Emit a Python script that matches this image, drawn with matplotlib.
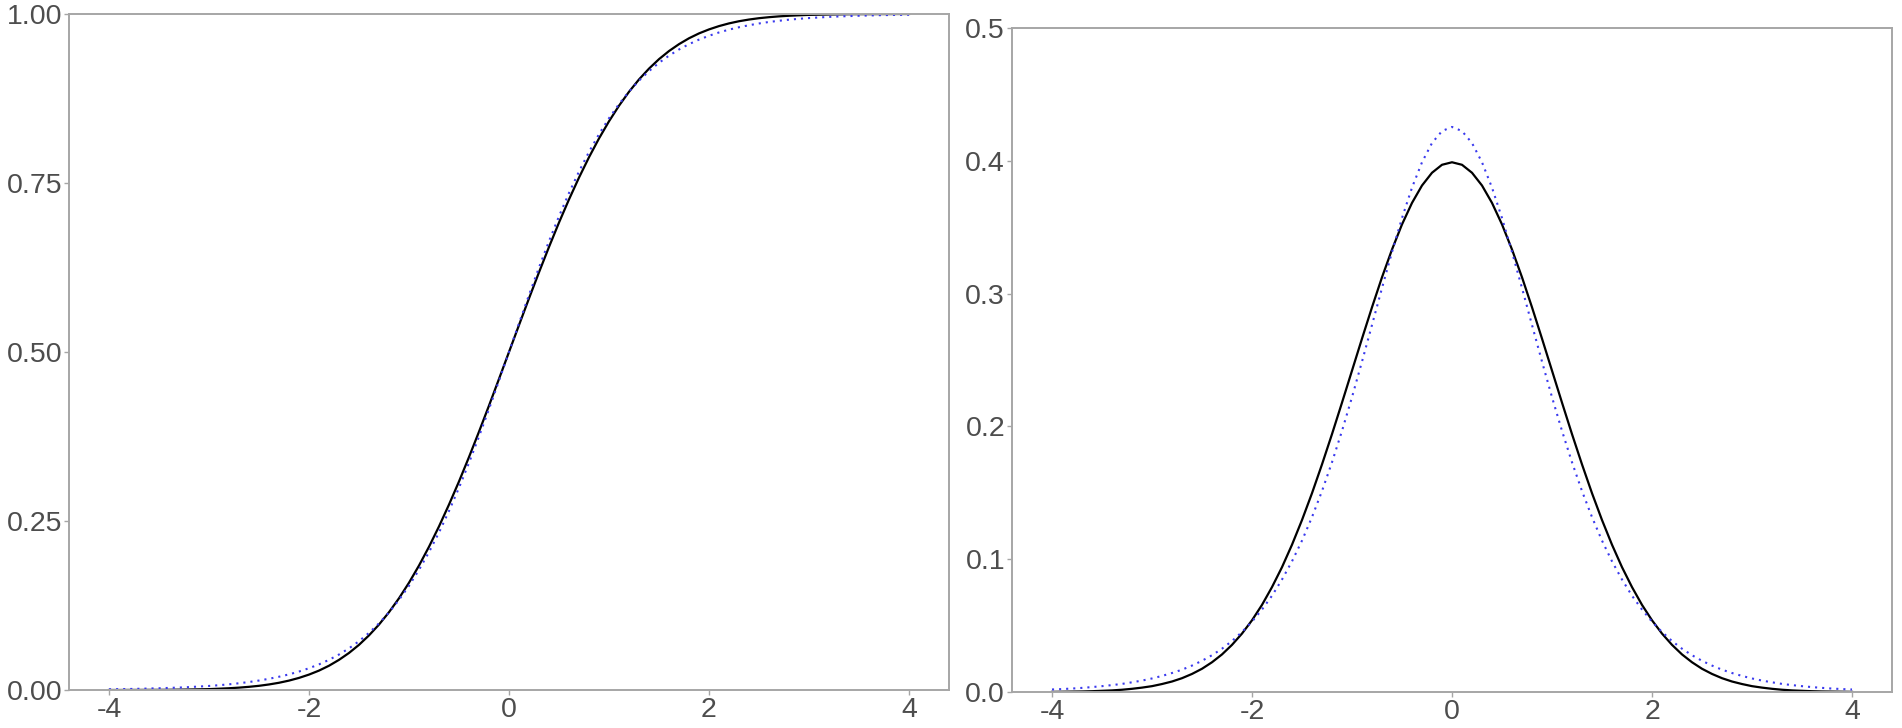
import numpy as np
import matplotlib
matplotlib.use("Agg")
from matplotlib import pyplot as plt

plt.rcParams['font.family'] = ['Liberation Sans', 'DejaVu Sans']

# x grid, -4 to 4 in steps of 0.1
xs = np.linspace(-4, 4, 81)

# normal curves (black, solid)
normCdf = [0.0000, 0.0000, 0.0001, 0.0001, 0.0002, 0.0002, 0.0003, 0.0005, 0.0007, 0.0010,
           0.0013, 0.0019, 0.0026, 0.0035, 0.0047, 0.0062, 0.0082, 0.0107, 0.0139, 0.0179,
           0.0228, 0.0287, 0.0359, 0.0446, 0.0548, 0.0668, 0.0808, 0.0968, 0.1151, 0.1357,
           0.1587, 0.1841, 0.2119, 0.2420, 0.2743, 0.3085, 0.3446, 0.3821, 0.4207, 0.4602,
           0.5000,
           0.5398, 0.5793, 0.6179, 0.6554, 0.6915, 0.7257, 0.7580, 0.7881, 0.8159, 0.8413,
           0.8643, 0.8849, 0.9032, 0.9192, 0.9332, 0.9452, 0.9554, 0.9641, 0.9713, 0.9772,
           0.9821, 0.9861, 0.9893, 0.9918, 0.9938, 0.9953, 0.9965, 0.9974, 0.9981, 0.9987,
           0.9990, 0.9993, 0.9995, 0.9997, 0.9998, 0.9998, 0.9999, 0.9999, 1.0000, 1.0000]
normPdf = [0.0001, 0.0002, 0.0003, 0.0004, 0.0006, 0.0009, 0.0012, 0.0017, 0.0024, 0.0033,
           0.0044, 0.0060, 0.0079, 0.0104, 0.0136, 0.0175, 0.0224, 0.0283, 0.0355, 0.0440,
           0.0540, 0.0656, 0.0790, 0.0940, 0.1109, 0.1295, 0.1497, 0.1714, 0.1942, 0.2179,
           0.2420, 0.2661, 0.2897, 0.3123, 0.3332, 0.3521, 0.3683, 0.3814, 0.3910, 0.3970,
           0.3989,
           0.3970, 0.3910, 0.3814, 0.3683, 0.3521, 0.3332, 0.3123, 0.2897, 0.2661, 0.2420,
           0.2179, 0.1942, 0.1714, 0.1497, 0.1295, 0.1109, 0.0940, 0.0790, 0.0656, 0.0540,
           0.0440, 0.0355, 0.0283, 0.0224, 0.0175, 0.0136, 0.0104, 0.0079, 0.0060, 0.0044,
           0.0033, 0.0024, 0.0017, 0.0012, 0.0009, 0.0006, 0.0004, 0.0003, 0.0002, 0.0001]

# logistic approximation (blue, dotted)
logisCdf = [0.0011, 0.0013, 0.0015, 0.0018, 0.0022, 0.0026, 0.0031, 0.0036, 0.0043, 0.0051,
            0.0060, 0.0071, 0.0084, 0.0100, 0.0118, 0.0140, 0.0166, 0.0196, 0.0231, 0.0273,
            0.0322, 0.0379, 0.0446, 0.0525, 0.0616, 0.0722, 0.0845, 0.0986, 0.1148, 0.1333,
            0.1542, 0.1778, 0.2040, 0.2330, 0.2648, 0.2992, 0.3361, 0.3750, 0.4157, 0.4576,
            0.5000,
            0.5424, 0.5843, 0.6250, 0.6639, 0.7008, 0.7352, 0.7670, 0.7960, 0.8222, 0.8458,
            0.8667, 0.8852, 0.9014, 0.9155, 0.9278, 0.9384, 0.9475, 0.9554, 0.9621, 0.9678,
            0.9727, 0.9769, 0.9804, 0.9834, 0.9860, 0.9882, 0.9900, 0.9916, 0.9929, 0.9940,
            0.9949, 0.9957, 0.9964, 0.9969, 0.9974, 0.9978, 0.9982, 0.9985, 0.9987, 0.9989]
logisPdf = [0.0019, 0.0022, 0.0026, 0.0031, 0.0037, 0.0044, 0.0052, 0.0061, 0.0073, 0.0086,
            0.0102, 0.0121, 0.0143, 0.0168, 0.0199, 0.0235, 0.0277, 0.0326, 0.0384, 0.0452,
            0.0530, 0.0621, 0.0725, 0.0847, 0.0984, 0.1140, 0.1317, 0.1513, 0.1730, 0.1966,
            0.2220, 0.2488, 0.2764, 0.3042, 0.3313, 0.3569, 0.3798, 0.3989, 0.4134, 0.4224,
            0.4255,
            0.4224, 0.4134, 0.3989, 0.3798, 0.3569, 0.3313, 0.3042, 0.2764, 0.2488, 0.2220,
            0.1966, 0.1730, 0.1513, 0.1317, 0.1140, 0.0984, 0.0847, 0.0725, 0.0621, 0.0530,
            0.0452, 0.0384, 0.0326, 0.0277, 0.0235, 0.0199, 0.0168, 0.0143, 0.0121, 0.0102,
            0.0086, 0.0073, 0.0061, 0.0052, 0.0044, 0.0037, 0.0031, 0.0026, 0.0022, 0.0019]

xTicks = [-4, -2, 0, 2, 4]
cdfTicks = [0.0, 0.25, 0.5, 0.75, 1.0]
cdfLabels = ["0.00", "0.25", "0.50", "0.75", "1.00"]
pdfTicks = [0.0, 0.1, 0.2, 0.3, 0.4, 0.5]
pdfLabels = ["0.0", "0.1", "0.2", "0.3", "0.4", "0.5"]

W, H = 1902, 728
fig = plt.figure(figsize=(W / 100, H / 100), dpi=100)

# panel boxes in pixels: left, top, right, bottom
def pixAxes(l, t, r, b):
    return fig.add_axes([l / W, 1 - b / H, (r - l) / W, (b - t) / H])

axL = pixAxes(69, 14, 949, 690)
axR = pixAxes(1012, 28, 1892, 692)

def styleAx(ax, yt, yl, ymax):
    ax.set_xlim(-4.4, 4.4)
    ax.set_ylim(0, ymax)
    ax.set_xticks(xTicks)
    ax.set_xticklabels([str(t) for t in xTicks])
    ax.set_yticks(yt)
    ax.set_yticklabels(yl)
    for s in ax.spines.values():
        s.set_color('#a6a6a6')
        s.set_linewidth(1.4)
    ax.tick_params(length=3.5, width=1.0, color='#a6a6a6', labelsize=20.5,
                   labelcolor='#4d4d4d', pad=1.5)

axL.plot(xs, normCdf, color='black', lw=1.6)
axL.plot(xs, logisCdf, color='#3a3aee', lw=1.5, linestyle=(0, (1, 2.4)))
styleAx(axL, cdfTicks, cdfLabels, 1.0)

axR.plot(xs, normPdf, color='black', lw=1.6)
axR.plot(xs, logisPdf, color='#3a3aee', lw=1.5, linestyle=(0, (1, 2.4)))
styleAx(axR, pdfTicks, pdfLabels, 0.5)

fig.savefig("out.png", dpi=100)
